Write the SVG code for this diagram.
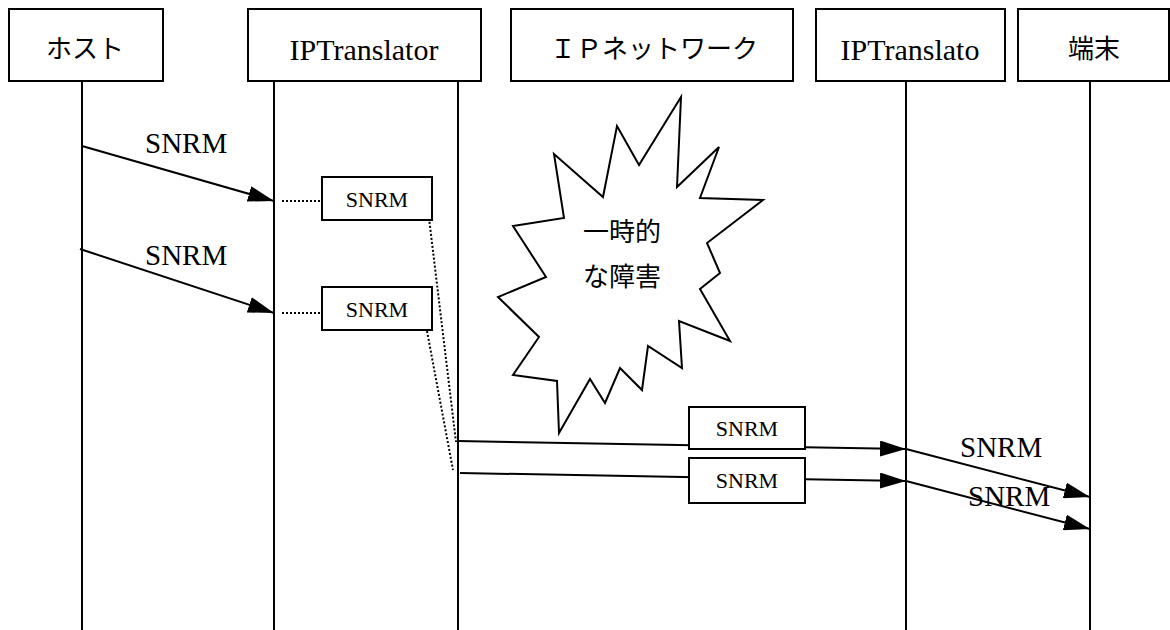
<svg xmlns="http://www.w3.org/2000/svg" width="1170" height="630" viewBox="0 0 1170 630">
<style>
.box{fill:#fff;stroke:#000;stroke-width:2}
.life{stroke:#000;stroke-width:2;fill:none}
.msg{stroke:#000;stroke-width:2;fill:none}
.dot{stroke:#000;stroke-width:2;stroke-dasharray:2 2;fill:none}
.jp{font-family:"Noto Sans CJK JP","Noto Sans",sans-serif;font-size:26px;fill:#000}
.hd{font-family:"Liberation Serif",serif;font-size:30px;fill:#000}
.lb{font-family:"Liberation Serif",serif;font-size:29px;fill:#000}
.sm{font-family:"Liberation Serif",serif;font-size:22px;fill:#000}
</style>
<defs>
<marker id="ah" viewBox="0 0 26 16" refX="26" refY="8" markerWidth="26" markerHeight="16" markerUnits="userSpaceOnUse" orient="auto">
<path d="M0,0 L26,8 L0,16 Z" fill="#000"/>
</marker>
</defs>
<rect width="1170" height="630" fill="#fff"/>

<g id="lifelines">
<line class="life" x1="82" y1="81" x2="82" y2="630"/>
<line class="life" x1="274" y1="81" x2="274" y2="630"/>
<line class="life" x1="458" y1="81" x2="458" y2="630"/>
<line class="life" x1="906" y1="81" x2="906" y2="630"/>
<line class="life" x1="1090" y1="81" x2="1090" y2="630"/>
</g>

<g id="node-host">
<rect class="box" x="9" y="9" width="154" height="72"/>
<text class="jp" x="85" y="58" text-anchor="middle">ホスト</text>
</g>
<g id="node-iptranslator1">
<rect class="box" x="248" y="9" width="233" height="72"/>
<text class="hd" x="364" y="60" text-anchor="middle">IPTranslator</text>
</g>
<g id="node-ipnetwork">
<rect class="box" x="511" y="9" width="282" height="72"/>
<text class="jp" x="654" y="58" text-anchor="middle">ＩＰネットワーク</text>
</g>
<g id="node-iptranslator2">
<rect class="box" x="816" y="9" width="189" height="72"/>
<text class="hd" x="910" y="60" text-anchor="middle">IPTranslato</text>
</g>
<g id="node-terminal">
<rect class="box" x="1018" y="9" width="151" height="72"/>
<text class="jp" x="1094" y="58" text-anchor="middle">端末</text>
</g>

<g id="node-failure">
<polygon fill="#fff" stroke="#000" stroke-width="2" stroke-linejoin="miter" points="681,97 677,187 719,147 700,198 763,200 707,243 720,273 700,289 730,341 679,321 682,368 648,346 642,390 620,368 605,403 590,379 559,433 557,381 513,375 539,337 498,297 546,277 513,226 564,218 554,154 603,197 617,126 639,165"/>
<text class="jp" x="622" y="241" text-anchor="middle">一時的</text>
<text class="jp" x="622" y="286" text-anchor="middle">な障害</text>
</g>

<g id="connectors">
<line class="msg" x1="82" y1="146" x2="274" y2="201" marker-end="url(#ah)"/>
<line class="msg" x1="80" y1="249" x2="274" y2="313" marker-end="url(#ah)"/>
<line class="dot" x1="282" y1="201" x2="321" y2="201"/>
<line class="dot" x1="282" y1="313" x2="321" y2="313"/>
<line class="dot" x1="429" y1="218" x2="456" y2="442"/>
<line class="dot" x1="427" y1="331" x2="453" y2="470"/>
<line class="msg" x1="458" y1="441" x2="906" y2="449" marker-end="url(#ah)"/>
<line class="msg" x1="460" y1="473" x2="906" y2="481" marker-end="url(#ah)"/>
<line class="msg" x1="906" y1="449" x2="1090" y2="497" marker-end="url(#ah)"/>
<line class="msg" x1="906" y1="481" x2="1090" y2="529" marker-end="url(#ah)"/>
</g>

<g id="labels">
<text class="lb" x="145" y="153">SNRM</text>
<text class="lb" x="145" y="265">SNRM</text>
<text class="lb" x="960" y="457">SNRM</text>
<text class="lb" x="968" y="506">SNRM</text>
</g>

<g id="node-snrm1">
<rect class="box" x="322" y="177" width="110" height="43"/>
<text class="sm" x="377" y="207" text-anchor="middle">SNRM</text>
</g>
<g id="node-snrm2">
<rect class="box" x="322" y="287" width="110" height="43"/>
<text class="sm" x="377" y="317" text-anchor="middle">SNRM</text>
</g>
<g id="node-snrm3">
<rect class="box" x="689" y="407" width="116" height="42"/>
<text class="sm" x="747" y="436" text-anchor="middle">SNRM</text>
</g>
<g id="node-snrm4">
<rect class="box" x="689" y="458" width="116" height="45"/>
<text class="sm" x="747" y="488" text-anchor="middle">SNRM</text>
</g>
</svg>
